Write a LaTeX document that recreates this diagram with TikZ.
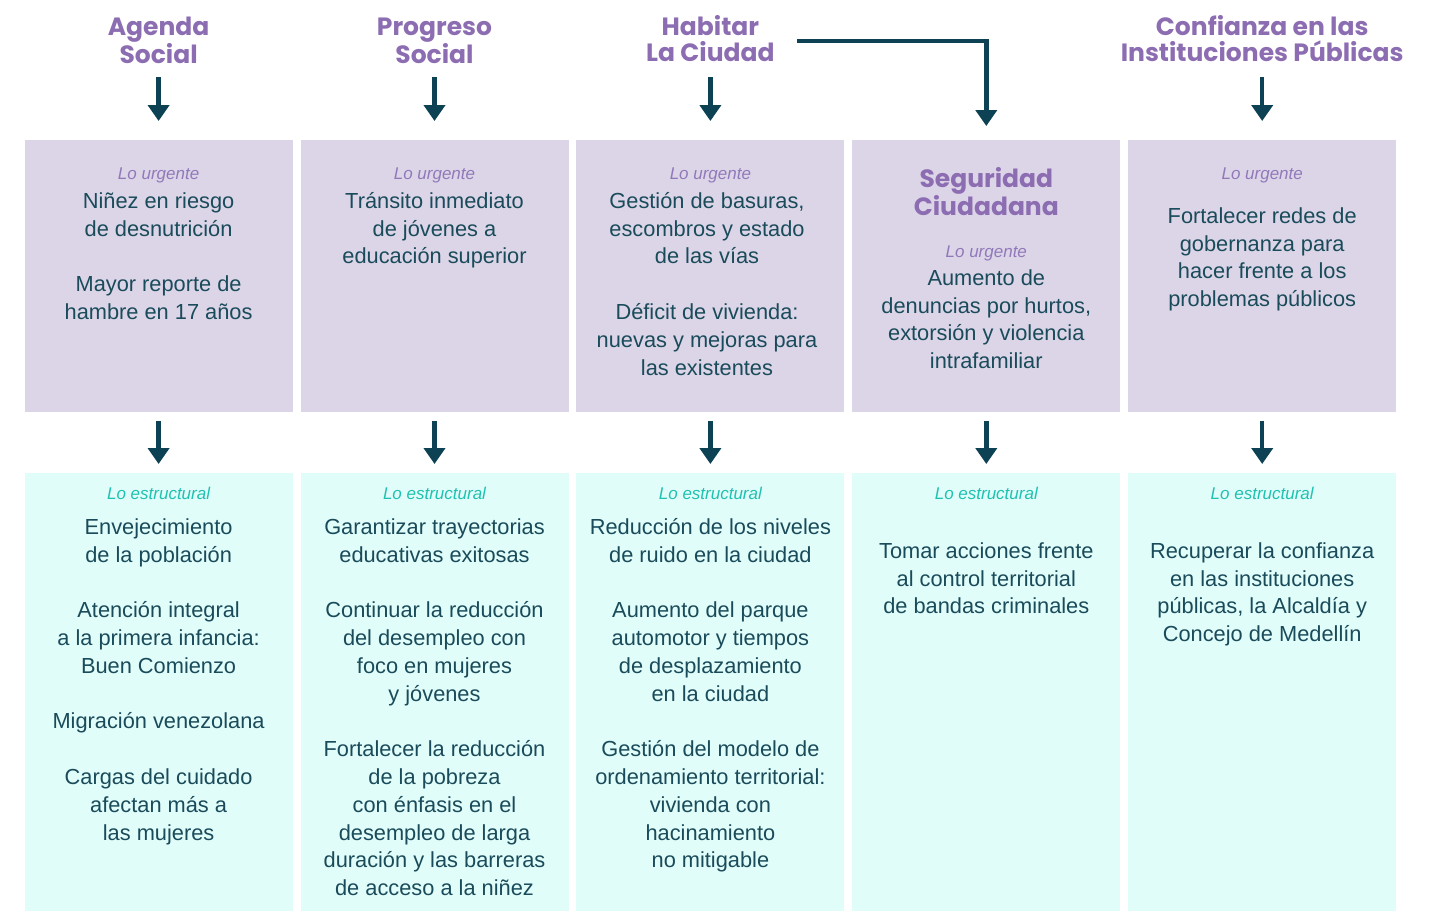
\documentclass[tikz,border=0pt]{standalone}
\usepackage{fontspec}
\setmainfont{Liberation Sans}
\newfontfamily\headfont{Poppins}
\usetikzlibrary{arrows.meta}
\definecolor{headpurple}{HTML}{8C6DB2}
\definecolor{labpurple}{HTML}{9179B9}
\definecolor{labteal}{HTML}{1FC1B1}
\definecolor{ink}{HTML}{1A4B5A}
\definecolor{arrowc}{HTML}{0C4253}
\definecolor{topfill}{HTML}{DCD5E8}
\definecolor{botfill}{HTML}{E1FDFA}
\tikzset{
  colbox/.style={minimum width=268pt, inner sep=0pt, outer sep=0pt, draw=none},
  topbox/.style={colbox, fill=topfill, minimum height=271.5pt},
  botbox/.style={colbox, fill=botfill, minimum height=438pt},
  body/.style={font=\fontsize{21.8}{27.8}\selectfont, text=ink, align=center, inner sep=0pt, anchor=north},
  head/.style={font=\headfont\bfseries\fontsize{25}{26}\selectfont, text=headpurple, align=center, inner sep=0pt, anchor=north},
  urg/.style={font=\itshape\fontsize{17}{18}\selectfont, text=labpurple, inner sep=0pt, anchor=base},
  estr/.style={urg, text=labteal},
  arr/.style={draw=arrowc, line width=4.5pt, -{Triangle[width=21pt,length=16pt]}}
}
\newcommand{\fl}{\rule{0pt}{16.5pt}}
\newcommand{\hl}{\rule{0pt}{20pt}}
\begin{document}
\begin{tikzpicture}[x=1pt,y=-1pt]
\useasboundingbox (0,0) rectangle (1437,911);
% boxes
\node[topbox] (top1) at (158.6,275.75) {};
\node[topbox] (top2) at (434.5,275.75) {};
\node[topbox] (top3) at (710.4,275.75) {};
\node[topbox] (top4) at (986.3,275.75) {};
\node[topbox] (top5) at (1262.2,275.75) {};
\node[botbox] (bot1) at (158.6,692) {};
\node[botbox] (bot2) at (434.5,692) {};
\node[botbox] (bot3) at (710.4,692) {};
\node[botbox] (bot4) at (986.3,692) {};
\node[botbox] (bot5) at (1262.2,692) {};
% headings
\node[head] (h1) at (158.6,15) {\hl Agenda\\Social};
\node[head] (h2) at (434.5,15) {\hl Progreso\\Social};
\node[head] (h3) at (710.4,15) {\hl Habitar\\La Ciudad};
\node[head] (h5) at (1262.2,15) {\hl Confianza en las\\Instituciones Públicas};
\node[head] (h4) at (986.3,167) {\hl Seguridad\\Ciudadana};
% labels
\node[urg] (u1) at (158.6,179) {Lo urgente};
\node[urg] (u2) at (434.5,179) {Lo urgente};
\node[urg] (u3) at (710.4,179) {Lo urgente};
\node[urg] (u4) at (986.3,257) {Lo urgente};
\node[urg] (u5) at (1262.2,179) {Lo urgente};
\node[estr] (s1) at (158.6,499) {Lo estructural};
\node[estr] (s2) at (434.5,499) {Lo estructural};
\node[estr] (s3) at (710.4,499) {Lo estructural};
\node[estr] (s4) at (986.3,499) {Lo estructural};
\node[estr] (s5) at (1262.2,499) {Lo estructural};
% top texts
\node[body] (t1) at (158.6,191.5) {\fl Niñez en riesgo\\de desnutrición\\[27.8pt]Mayor reporte de\\hambre en 17 años};
\node[body] (t2) at (434.5,191.5) {\fl Tránsito inmediato\\de jóvenes a\\educación superior};
\node[body] (t3) at (707,191.5) {\fl Gestión de basuras,\\escombros y estado\\de las vías\\[27.8pt]Déficit de vivienda:\\nuevas y mejoras para\\las existentes};
\node[body] (t4) at (986.3,268.5) {\fl Aumento de\\denuncias por hurtos,\\extorsión y violencia\\intrafamiliar};
\node[body] (t5) at (1262.2,206.5) {\fl Fortalecer redes de\\gobernanza para\\hacer frente a los\\problemas públicos};
% bottom texts
\node[body] (b1) at (158.6,517.5) {\fl Envejecimiento\\de la población\\[27.8pt]Atención integral\\a la primera infancia:\\Buen Comienzo\\[27.8pt]Migración venezolana\\[27.8pt]Cargas del cuidado\\afectan más a\\las mujeres};
\node[body] (b2) at (434.5,517.5) {\fl Garantizar trayectorias\\educativas exitosas\\[27.8pt]Continuar la reducción\\del desempleo con\\foco en mujeres\\y jóvenes\\[27.8pt]Fortalecer la reducción\\de la pobreza\\con énfasis en el\\desempleo de larga\\duración y las barreras\\de acceso a la niñez};
\node[body] (b3) at (710.4,517.5) {\fl Reducción de los niveles\\de ruido en la ciudad\\[27.8pt]Aumento del parque\\automotor y tiempos\\de desplazamiento\\en la ciudad\\[27.8pt]Gestión del modelo de\\ordenamiento territorial:\\vivienda con\\hacinamiento\\no mitigable};
\node[body] (b4) at (986.3,541.5) {\fl Tomar acciones frente\\al control territorial\\de bandas criminales};
\node[body] (b5) at (1262.2,541.5) {\fl Recuperar la confianza\\en las instituciones\\públicas, la Alcaldía y\\Concejo de Medellín};
% arrows
\coordinate (a1) at ([yshift=63pt]top1.north);
\coordinate (a2) at ([yshift=63pt]top2.north);
\coordinate (a3) at ([yshift=63pt]top3.north);
\coordinate (a5) at ([yshift=63pt]top5.north);
\coordinate (e0) at (797,41);
\foreach \i in {1,2,3,5}{
  \draw[arr, shorten >=19pt] (a\i) -- (top\i.north);
}
\draw[arr, shorten >=14pt] (e0) -| (top4.north);
\foreach \i in {1,...,5}{
  \draw[arr, shorten <=9pt, shorten >=9pt] (top\i.south) -- (bot\i.north);
}
\end{tikzpicture}
\end{document}
